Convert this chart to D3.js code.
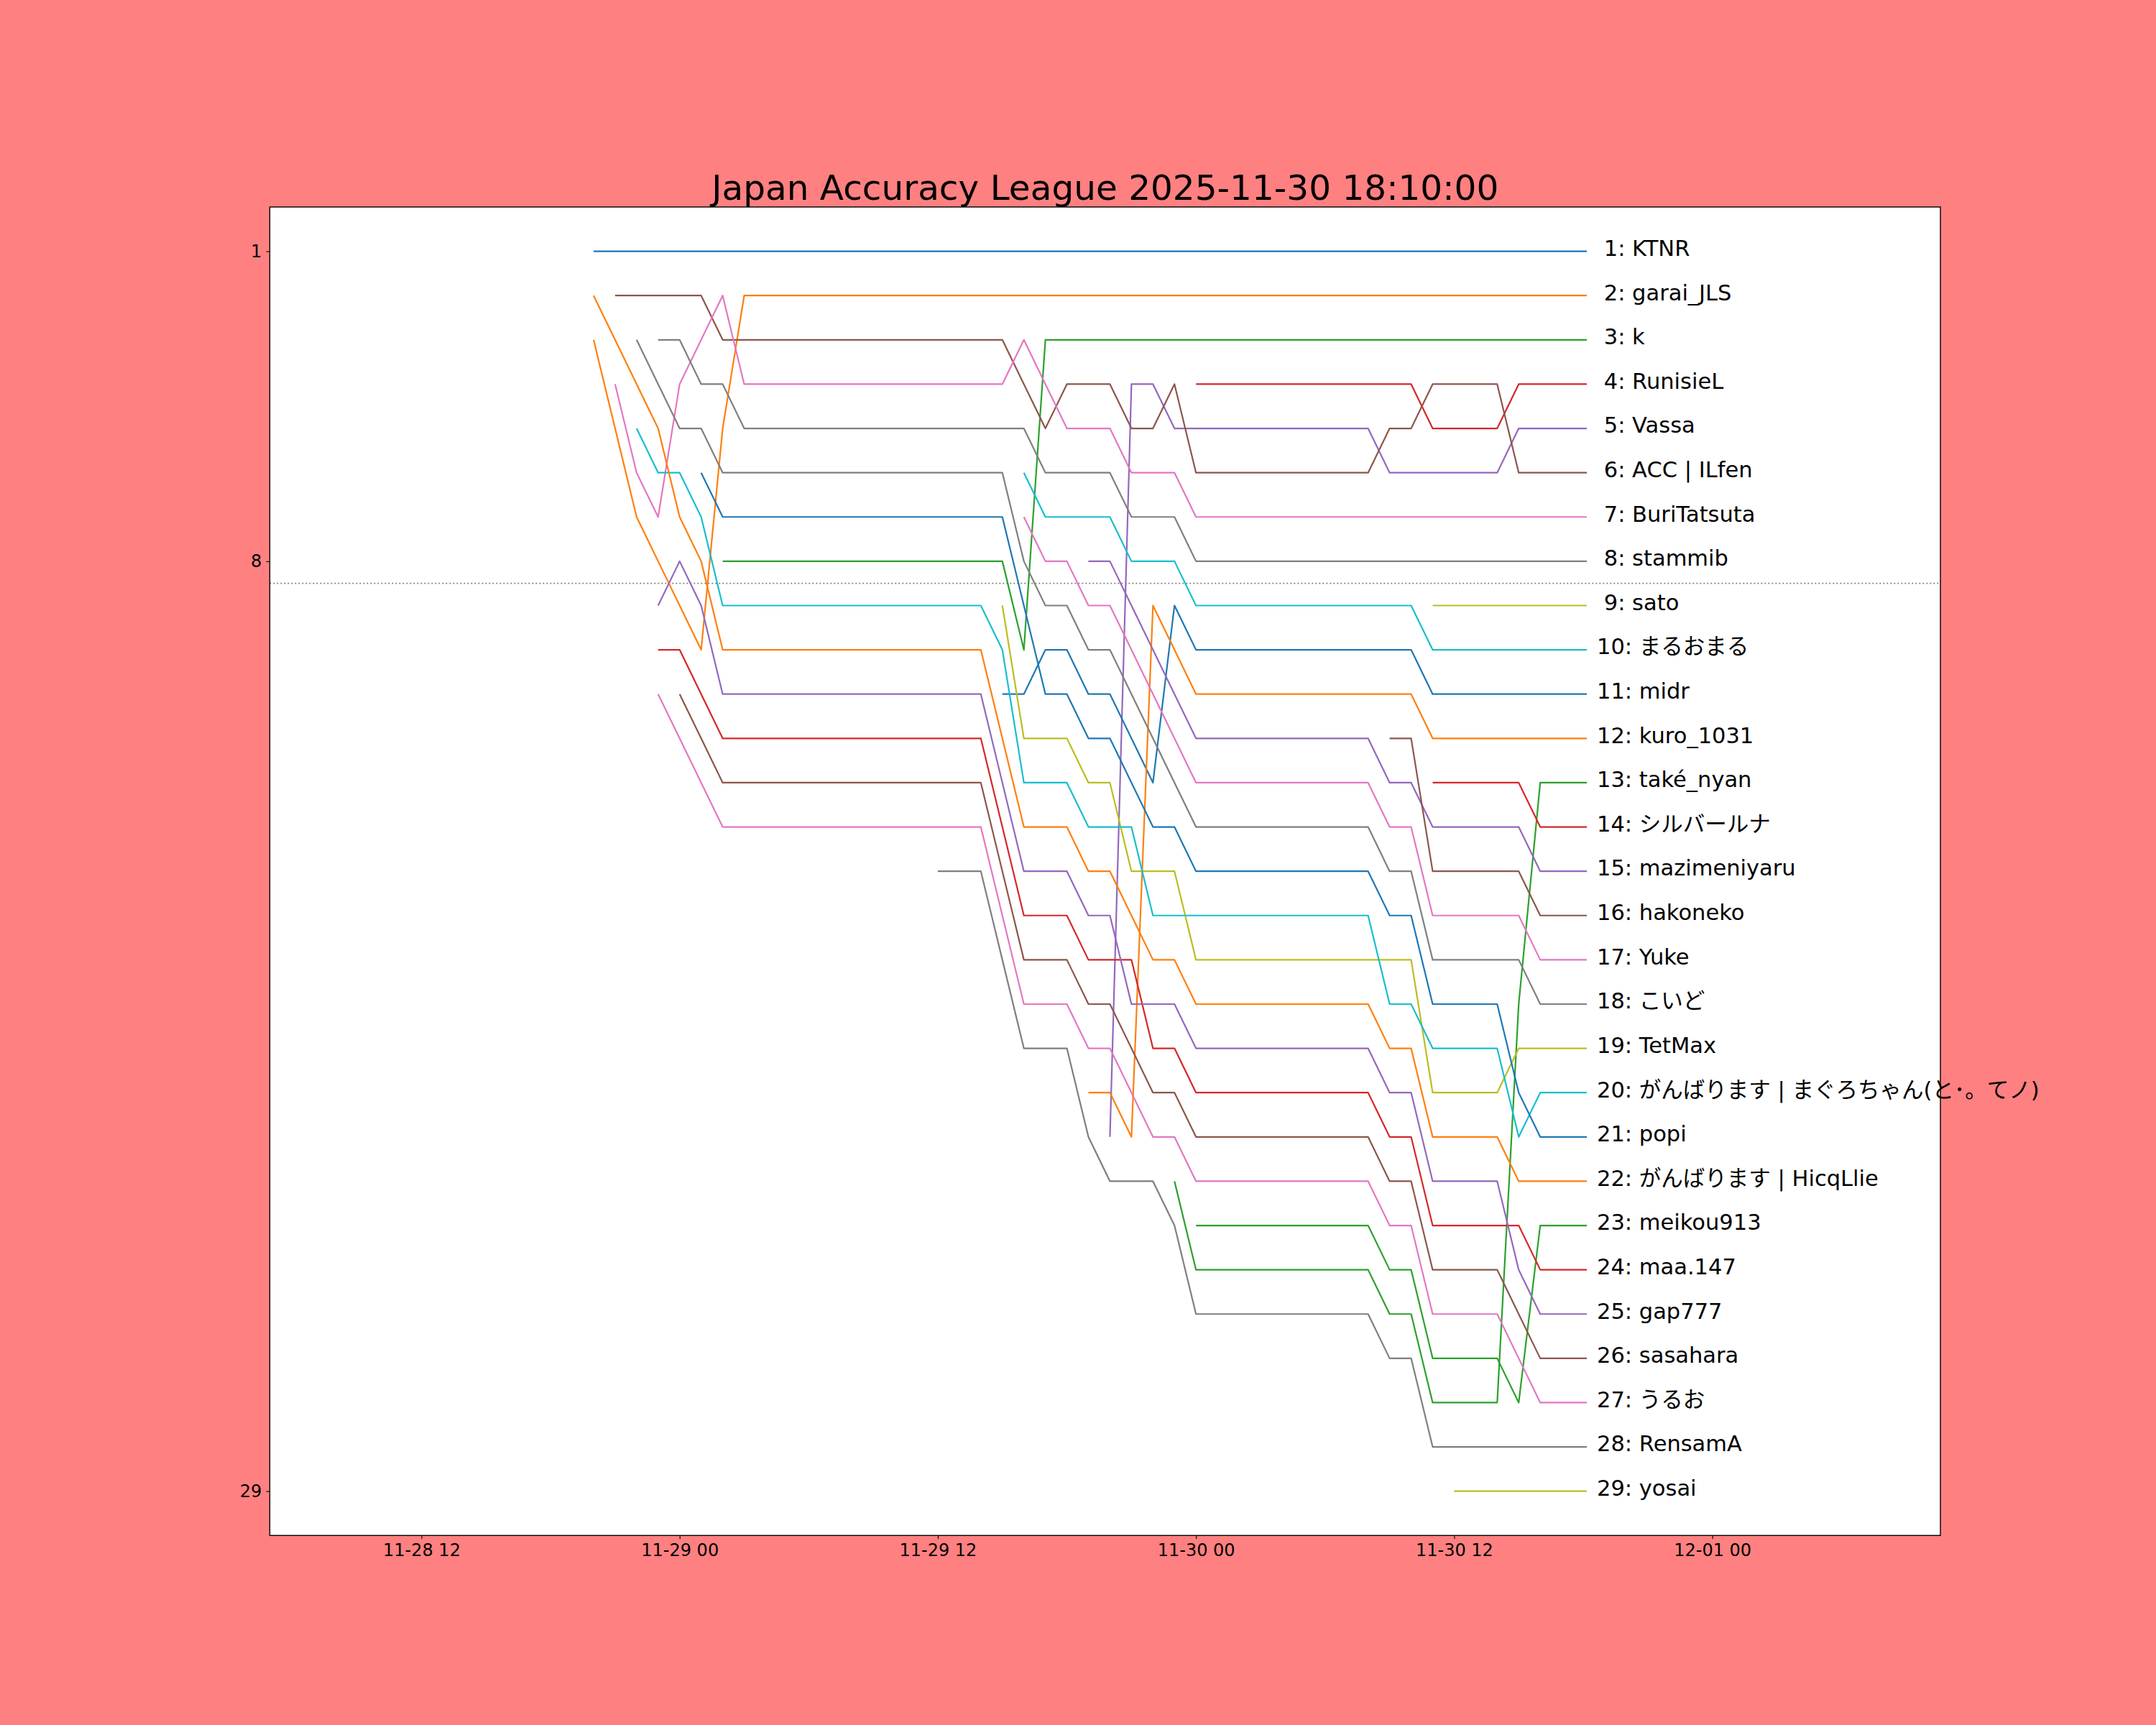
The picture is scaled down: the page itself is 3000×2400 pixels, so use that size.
<!DOCTYPE html>
<html>
<head>
<meta charset="utf-8">
<script src="https://cdn.jsdelivr.net/npm/d3@7"></script>
<style>
  body { margin: 0; background: #ff8080; }
  svg { display: block; }
</style>
</head>
<body>
<script>
// snapshot times (hourly, flat stretches left out) + the final 18:10 snapshot
var times = [
  "2025-11-28 20:00", "2025-11-28 21:00", "2025-11-28 22:00", "2025-11-28 23:00",
  "2025-11-29 00:00", "2025-11-29 01:00", "2025-11-29 02:00", "2025-11-29 03:00",
  "2025-11-29 12:00", "2025-11-29 13:00", "2025-11-29 14:00", "2025-11-29 15:00",
  "2025-11-29 16:00", "2025-11-29 17:00", "2025-11-29 18:00", "2025-11-29 19:00",
  "2025-11-29 20:00", "2025-11-29 21:00", "2025-11-29 22:00", "2025-11-29 23:00",
  "2025-11-30 00:00",
  "2025-11-30 08:00", "2025-11-30 09:00", "2025-11-30 10:00", "2025-11-30 11:00",
  "2025-11-30 12:00", "2025-11-30 13:00", "2025-11-30 14:00", "2025-11-30 15:00",
  "2025-11-30 16:00", "2025-11-30 18:10"
];

// players in final order
var names = [
  "KTNR", "garai_JLS", "k", "RunisieL", "Vassa", "ACC | ILfen", "BuriTatsuta",
  "stammib", "sato", "まるおまる", "midr", "kuro_1031", "také_nyan", "シルバールナ",
  "mazimeniyaru", "hakoneko", "Yuke", "こいど", "TetMax",
  "がんばります | まぐろちゃん(と･。てノ)", "popi", "がんばります | HicqLlie",
  "meikou913", "maa.147", "gap777", "sasahara", "うるお", "RensamA", "yosai"
];

var n = null;
// rank of each player at each time above (null = not on the board yet)
var ranks = [
  [1,1,1,1,1,1,1,1, 1,1,1,1,1,1,1,1,1,1,1,1,1, 1,1,1,1,1,1,1,1,1, 1],
  [3,5,7,8,9,10,5,2, 2,2,2,2,2,2,2,2,2,2,2,2,2, 2,2,2,2,2,2,2,2,2, 2],
  [n,n,n,n,n,n,8,8, 8,8,8,8,10,3,3,3,3,3,3,3,3, 3,3,3,3,3,3,3,3,3, 3],
  [n,n,n,n,n,n,n,n, n,n,n,n,n,n,n,n,n,n,n,n,4, 4,4,4,5,5,5,5,4,4, 4],
  [n,n,n,n,n,n,n,n, n,n,n,n,n,n,n,n,21,4,4,5,5, 5,6,6,6,6,6,6,5,5, 5],
  [n,2,2,2,2,2,3,3, 3,3,3,3,4,5,4,4,4,5,5,4,6, 6,5,5,4,4,4,4,6,6, 6],
  [n,4,6,7,4,3,2,4, 4,4,4,4,3,4,5,5,5,6,6,6,7, 7,7,7,7,7,7,7,7,7, 7],
  [n,n,n,3,3,4,4,5, 5,5,5,5,5,6,6,6,6,7,7,7,8, 8,8,8,8,8,8,8,8,8, 8],
  [n,n,n,n,n,n,n,n, n,n,n,n,n,n,n,n,n,n,n,n,n, n,n,n,9,9,9,9,9,9, 9],
  [n,n,n,n,n,n,n,n, n,n,n,n,6,7,7,7,7,8,8,8,9, 9,9,9,10,10,10,10,10,10, 10],
  [n,n,n,n,n,n,n,n, n,n,n,11,11,10,10,11,11,12,13,9,10, 10,10,10,11,11,11,11,11,11, 11],
  [n,n,n,n,n,n,n,n, n,n,n,n,n,n,n,20,20,21,9,10,11, 11,11,11,12,12,12,12,12,12, 12],
  [n,n,n,n,n,n,n,n, n,n,n,n,n,n,n,n,n,n,n,22,24, 24,25,25,27,27,27,27,18,13, 13],
  [n,n,n,n,n,n,n,n, n,n,n,n,n,n,n,n,n,n,n,n,n, n,n,n,13,13,13,13,13,14, 14],
  [n,n,n,n,n,n,n,n, n,n,n,n,n,n,n,8,8,9,10,11,12, 12,13,13,14,14,14,14,14,15, 15],
  [n,n,n,n,n,n,n,n, n,n,n,n,n,n,n,n,n,n,n,n,n, n,12,12,15,15,15,15,15,16, 16],
  [n,n,n,n,n,n,n,n, n,n,n,n,7,8,8,9,9,10,11,12,13, 13,14,14,16,16,16,16,16,17, 17],
  [n,n,3,4,5,5,6,6, 6,6,6,6,8,9,9,10,10,11,12,13,14, 14,15,15,17,17,17,17,17,18, 18],
  [n,n,n,n,n,n,n,n, n,n,n,9,12,12,12,13,13,15,15,15,17, 17,17,17,20,20,20,20,19,19, 19],
  [n,n,5,6,6,7,9,9, 9,9,9,10,13,13,13,14,14,14,16,16,16, 16,18,18,19,19,19,19,21,20, 20],
  [n,n,n,n,n,6,7,7, 7,7,7,7,9,11,11,12,12,13,14,14,15, 15,16,16,18,18,18,18,20,21, 21],
  [2,3,4,5,7,8,10,10, 10,10,10,12,14,14,14,15,15,16,17,17,18, 18,19,19,21,21,21,21,22,22, 22],
  [n,n,n,n,n,n,n,n, n,n,n,n,n,n,n,n,n,n,n,n,23, 23,24,24,26,26,26,26,27,23, 23],
  [n,n,n,10,10,11,12,12, 12,12,12,14,16,16,16,17,17,17,19,19,20, 20,21,21,23,23,23,23,23,24, 24],
  [n,n,n,9,8,9,11,11, 11,11,11,13,15,15,15,16,16,18,18,18,19, 19,20,20,22,22,22,22,24,25, 25],
  [n,n,n,n,11,12,13,13, 13,13,13,15,17,17,17,18,18,19,20,20,21, 21,22,22,24,24,24,24,25,26, 26],
  [n,n,n,11,12,13,14,14, 14,14,14,16,18,18,18,19,19,20,21,21,22, 22,23,23,25,25,25,25,26,27, 27],
  [n,n,n,n,n,n,n,n, 15,15,15,17,19,19,19,21,22,22,22,23,25, 25,26,26,28,28,28,28,28,28, 28],
  [n,n,n,n,n,n,n,n, n,n,n,n,n,n,n,n,n,n,n,n,n, n,n,n,n,29,29,29,29,29, 29]
];

var rankTicks = [1, 8, 29];
var title = "Japan Accuracy League 2025-11-30 18:10:00";

(function(){
  var parse = d3.utcParse("%Y-%m-%d %H:%M");
  var dates = times.map(parse);

  var W = 3000, H = 2400;
  var axL = 375.4, axR = 2700, axT = 288, axB = 2136.3;
  var font = "'DejaVu Sans', 'Noto Sans CJK JP', sans-serif";

  var svg = d3.select("body")
              .append("svg")
              .attr("width", W)
              .attr("height", H);

  svg.append("rect")
     .attr("width", W)
     .attr("height", H)
     .attr("fill", "#ff8080");

  svg.append("rect")
     .attr("x", axL)
     .attr("y", axT)
     .attr("width", axR - axL)
     .attr("height", axB - axT)
     .attr("fill", "white");

  var x = d3.scaleUtc()
            .domain([parse("2025-11-28 04:57"), parse("2025-12-01 10:36")])
            .range([axL, axR]);

  var y = d3.scaleLinear()
            .domain([0, 30])
            .range([axT, axB]);

  // dotted cut line between 8th and 9th
  svg.append("line")
     .attr("x1", axL)
     .attr("x2", axR)
     .attr("y1", y(8.5))
     .attr("y2", y(8.5))
     .attr("stroke", "#777777")
     .attr("stroke-width", 1.8)
     .attr("stroke-dasharray", "1.8,3.2");

  var line = d3.line()
               .defined(function(d){ return d.rank != null; })
               .x(function(d){ return x(d.date); })
               .y(function(d){ return y(d.rank); });

  var series = names.map(function(name, i){
    return {
      name: name,
      color: d3.schemeCategory10[i % 10],
      points: ranks[i].map(function(r, j){ return {date: dates[j], rank: r}; })
    };
  });

  svg.selectAll("path.player")
     .data(series)
     .enter()
     .append("path")
     .attr("class", "player")
     .attr("d", function(d){ return line(d.points); })
     .attr("fill", "none")
     .attr("stroke", function(d){ return d.color; })
     .attr("stroke-width", 2.2)
     .attr("stroke-linejoin", "round");

  // name labels at the end of each line
  var lastDate = dates[dates.length - 1];
  svg.selectAll("text.name")
     .data(series)
     .enter()
     .append("text")
     .attr("class", "name")
     .attr("x", x(lastDate) + 14)
     .attr("y", function(d){ return y(d.points[d.points.length - 1].rank) + 6.3; })
     .attr("xml:space", "preserve")
     .style("white-space", "pre")
     .style("font-family", font)
     .style("font-size", "30.5px")
     .attr("fill", "black")
     .text(function(d){
       var r = d.points[d.points.length - 1].rank;
       return (r < 10 ? " " : "") + r + ": " + d.name;
     });

  var xAxis = svg.append("g")
                 .attr("transform", "translate(0," + axB + ")")
                 .call(d3.axisBottom(x)
                         .ticks(d3.utcHour.every(12))
                         .tickFormat(d3.utcFormat("%m-%d %H"))
                         .tickSize(5)
                         .tickPadding(7));

  var yAxis = svg.append("g")
                 .attr("transform", "translate(" + axL + ",0)")
                 .call(d3.axisLeft(y)
                         .tickValues(rankTicks)
                         .tickFormat(d3.format("d"))
                         .tickSize(5)
                         .tickPadding(6));

  [xAxis, yAxis].forEach(function(g){
    g.select(".domain").remove();
    g.selectAll(".tick line").attr("stroke", "black").attr("stroke-width", 1.1);
    g.selectAll(".tick text")
     .style("font-family", font)
     .style("font-size", "24px")
     .attr("fill", "black");
  });

  // axes frame
  svg.append("rect")
     .attr("x", axL)
     .attr("y", axT)
     .attr("width", axR - axL)
     .attr("height", axB - axT)
     .attr("fill", "none")
     .attr("stroke", "black")
     .attr("stroke-width", 1.4);

  svg.append("text")
     .attr("x", (axL + axR) / 2)
     .attr("y", 278)
     .attr("text-anchor", "middle")
     .style("font-family", font)
     .style("font-size", "48.5px")
     .attr("fill", "black")
     .text(title);
})();
</script>
</body>
</html>
